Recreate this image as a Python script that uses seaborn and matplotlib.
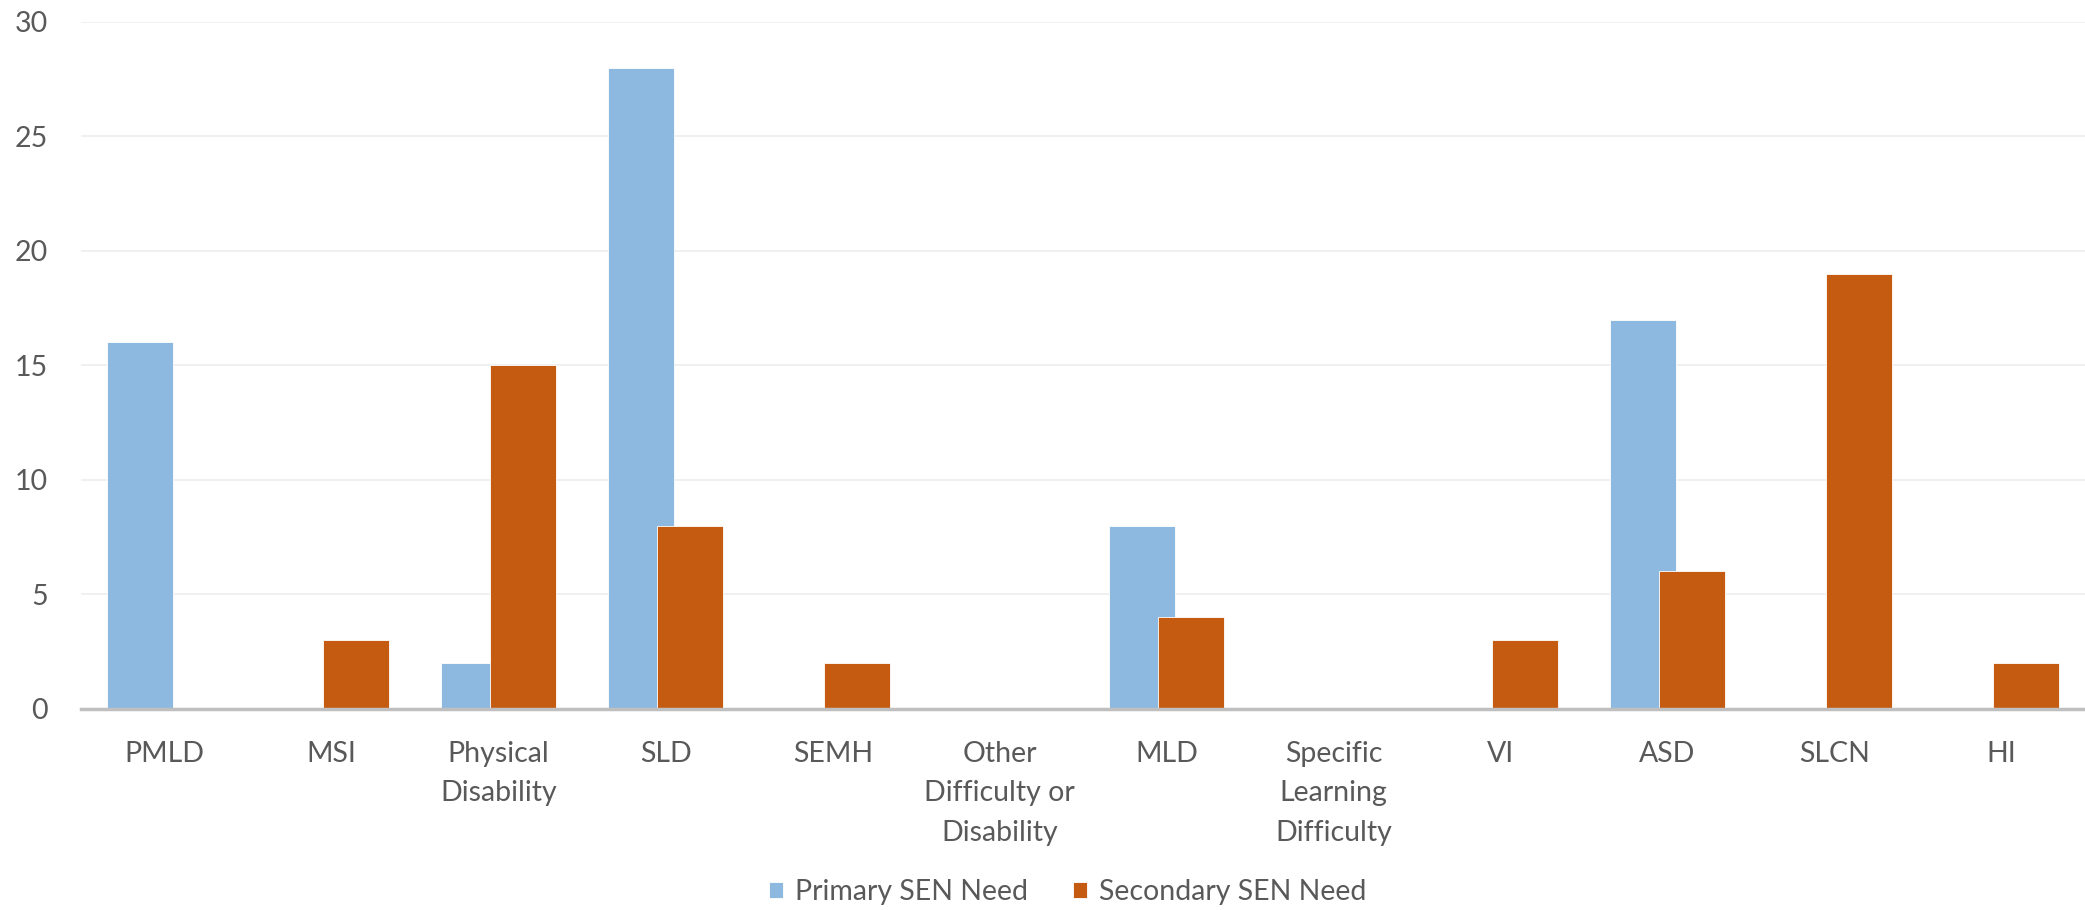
import pandas as pd
import matplotlib.pyplot as plt
import seaborn as sns

# SEN need counts
categories = ['PMLD', 'MSI', 'Physical\nDisability', 'SLD', 'SEMH',
              'Other\nDifficulty or\nDisability', 'MLD',
              'Specific\nLearning\nDifficulty', 'VI', 'ASD', 'SLCN', 'HI']
primary = [16, 0, 2, 28, 0, 0, 8, 0, 0, 17, 0, 0]
secondary = [0, 3, 15, 8, 2, 0, 4, 0, 3, 6, 19, 2]
series = ['Primary SEN Need', 'Secondary SEN Need']

df = pd.DataFrame({
    'Need': categories * 2,
    'Count': primary + secondary,
    'Type': [series[0]] * len(categories) + [series[1]] * len(categories),
})

sns.set_theme(style='white')
plt.rcParams['font.family'] = ['Lato', 'DejaVu Sans']
text_col = '#595959'

fig = plt.figure(figsize=(20.85, 9.10), dpi=100)
ax = fig.add_axes([0.039, 0.221, 0.961, 0.755])

sns.barplot(data=df, x='Need', y='Count', hue='Type',
            palette=['#8DB9E1', '#C55A11'], width=0.79, saturation=1,
            edgecolor='white', linewidth=0.6, ax=ax)

# pull the two series together so they overlap like the original
shift = 0.05
for container, sign in zip(ax.containers, [1, -1]):
    for bar in container:
        bar.set_x(bar.get_x() + sign * shift)

ax.set_ylim(0, 30)
ax.set_yticks(range(0, 31, 5))
ax.set_xlim(-0.5, len(categories) - 0.5)
ax.yaxis.grid(True, color='#EDEDED', linewidth=1.2)
ax.set_axisbelow(True)
for s in ['top', 'right', 'left']:
    ax.spines[s].set_visible(False)
ax.spines['bottom'].set_color('#BFBFBF')
ax.spines['bottom'].set_linewidth(2.5)
ax.spines['bottom'].set_zorder(5)

ax.tick_params(axis='both', length=0, labelsize=20.5, labelcolor=text_col)
ax.tick_params(axis='x', pad=23)
ax.tick_params(axis='y', pad=24)
for lbl in ax.get_xticklabels():
    lbl.set_linespacing(1.65)
ax.set_xlabel('')
ax.set_ylabel('')

handles, labels = ax.get_legend_handles_labels()
ax.get_legend().remove()
fig.legend(handles, labels, loc='center', bbox_to_anchor=(0.512, 0.02),
           ncol=2, frameon=False, fontsize=20.5, labelcolor=text_col,
           handlelength=0.5, handleheight=0.5, handletextpad=0.4,
           columnspacing=1.6)

fig.savefig('out.png', dpi=100)
